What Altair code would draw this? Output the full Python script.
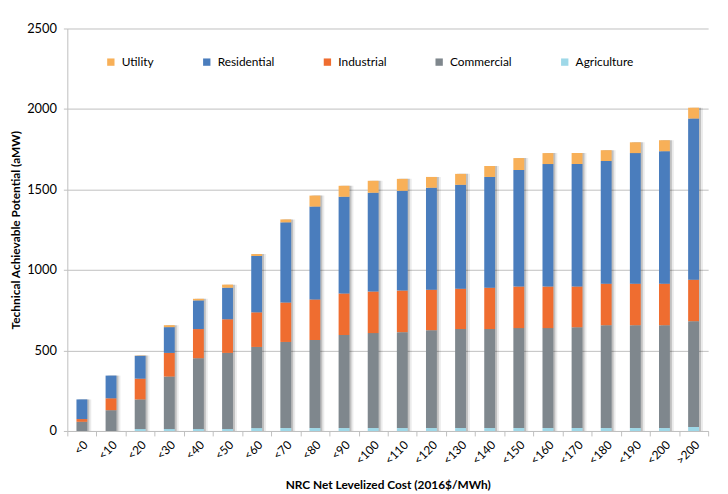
import altair as alt
import pandas as pd

categories = ["<0", "<10", "<20", "<30", "<40", "<50", "<60", "<70", "<80", "<90", "<100",
              "<110", "<120", "<130", "<140", "<150", "<160", "<170", "<180", "<190", "<200", ">200"]
agriculture = [0, 0, 12, 12, 12, 12, 18, 18, 18, 18, 18, 18, 18, 18, 18, 18, 18, 18, 18, 18, 18, 25]
commercial = [57, 129, 184, 326, 440, 473, 504, 535, 547, 578, 590, 596, 608, 615, 615, 621, 621, 627, 639, 639, 639, 657]
industrial = [17, 74, 129, 147, 181, 209, 215, 245, 252, 258, 258, 258, 252, 251, 257, 258, 258, 252, 258, 258, 258, 258]
residential = [122, 141, 142, 160, 178, 196, 350, 498, 577, 601, 614, 620, 633, 645, 688, 724, 761, 761, 762, 811, 823, 1001]
utility = [0, 0, 2, 12, 10, 19, 12, 18, 68, 68, 74, 74, 67, 68, 68, 74, 68, 68, 67, 67, 68, 67]

sectors = ["Utility", "Residential", "Industrial", "Commercial", "Agriculture"]
colors = ["#F8B058", "#4A7DBD", "#EF6D30", "#7F878D", "#9ED8E8"]
series = {"Agriculture": agriculture, "Commercial": commercial, "Industrial": industrial,
          "Residential": residential, "Utility": utility}
stack_rank = {"Agriculture": 0, "Commercial": 1, "Industrial": 2, "Residential": 3, "Utility": 4}

rows = []
for s, vals in series.items():
    for c, v in zip(categories, vals):
        rows.append({"cost": c, "sector": s, "value": v, "rank": stack_rank[s]})
df = pd.DataFrame(rows)

tot = pd.DataFrame({"cost": categories,
                    "total": [a + b + c + d + e for a, b, c, d, e in
                              zip(agriculture, commercial, industrial, residential, utility)]})

FONT = "Lato"

x_enc = alt.X("cost:N", sort=categories,
              scale=alt.Scale(paddingInner=0, paddingOuter=0),
              axis=alt.Axis(title="NRC Net Levelized Cost (2016$/MWh)", labelAngle=-45,
                            labelFontSize=12, titleFontSize=12, titleFontWeight="bold",
                            titlePadding=14, tickBand="extent", tickSize=5,
                            domainColor="#BFBFBF", tickColor="#BFBFBF",
                            labelColor="#000000", titleColor="#000000", labelPadding=3))

y_scale = alt.Scale(domain=[0, 2500], nice=False)

shadow1 = alt.Chart(tot).mark_bar(width=11, xOffset=2, color="#000000", opacity=0.18).encode(
    x=x_enc, y=alt.Y("total:Q", scale=y_scale))
shadow2 = alt.Chart(tot).mark_bar(width=11, xOffset=4, color="#000000", opacity=0.08).encode(
    x=x_enc, y=alt.Y("total:Q", scale=y_scale))

bars = alt.Chart(df).mark_bar(width=11).encode(
    x=x_enc,
    y=alt.Y("value:Q", stack="zero", scale=y_scale,
            axis=alt.Axis(title="Technical Achievable  Potential (aMW)", values=[0, 500, 1000, 1500, 2000, 2500],
                          format="d", labelFontSize=13, titleFontSize=12, titleFontWeight="bold",
                          gridColor="#BFBFBF", domainColor="#BFBFBF", tickColor="#BFBFBF",
                          tickSize=4, labelPadding=7, titlePadding=4,
                          labelColor="#000000", titleColor="#000000")),
    color=alt.Color("sector:N", scale=alt.Scale(domain=sectors, range=colors),
                    legend=alt.Legend(title=None, orient="none", direction="horizontal",
                                      legendX=38, legendY=28, symbolType="square",
                                      symbolSize=55, symbolStrokeWidth=0, labelFontSize=12,
                                      labelOffset=5, columnPadding=47, labelColor="#000000")),
    order=alt.Order("rank:Q", sort="ascending"),
)

chart = alt.layer(shadow2, shadow1, bars).properties(
    width=648, height=407,
    autosize=alt.AutoSizeParams(type="none"),
    padding={"left": 60, "top": 18, "right": 12, "bottom": 61},
).configure(font=FONT).configure_view(stroke=None)

chart.save("out.html", embed_options={"renderer": "svg", "actions": False})
